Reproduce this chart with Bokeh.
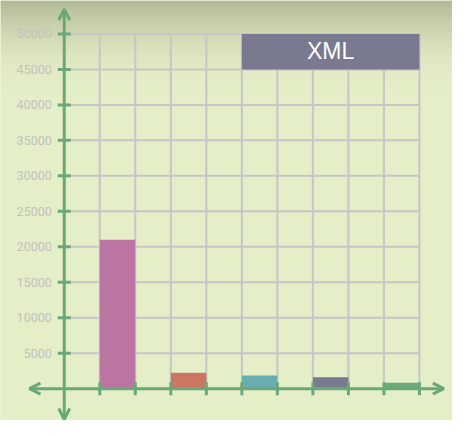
import numpy as np
from bokeh.plotting import figure
from bokeh.models import Arrow, OpenHead, Range1d
from bokeh.embed import file_html
from bokeh.resources import INLINE
from bokeh.core.properties import value

# ---- data ----
bar_values = [21000, 2250, 1850, 1600, 850]
bar_left = [1, 3, 5, 7, 9]
bar_colors = ["#bc74a2", "#cb7661", "#68aeb0", "#79798f", "#6ba97b"]
y_ticks = [5000, 10000, 15000, 20000, 25000, 30000, 35000, 40000, 45000, 50000]
y_tick_labels = [str(t) for t in y_ticks]
x_ticks = [1, 2, 3, 4, 5, 6, 7, 8, 9, 10]
legend_label = "XML"
legend_color = "#79798f"

# ---- geometry ----
W, H = 452, 420
SX, SY = W / 468.0, H / 436.0
X0PX = 66 * SX                 # origin, px from left
Y0PX = H - 403 * SY            # origin, px from bottom
UX = 331.0 / 9 * SX            # px per x unit
UY = 368.3 * SY / 50000        # px per y unit
GREEN = "#6aa878"
GRID = "#c6c6c6"
BG = "#e4eec7"

xr = Range1d(-X0PX / UX, (W - X0PX) / UX)
yr = Range1d(-Y0PX / UY, (H - Y0PX) / UY)

p = figure(width=W, height=H, x_range=xr, y_range=yr, output_backend="svg",
           toolbar_location=None, min_border=0, x_axis_type=None, y_axis_type=None)
p.outline_line_color = None
p.background_fill_color = BG
p.border_fill_color = BG
p.xgrid.visible = False
p.ygrid.visible = False

# background gradient at top
rows = H
top = np.array([0xb1, 0xb9, 0x96], dtype=float)
bot = np.array([0xe4, 0xee, 0xc7], dtype=float)
img = np.zeros((rows, 1), dtype=np.uint32)
view = img.view(dtype=np.uint8).reshape((rows, 1, 4))
for i in range(rows):
    abs_y = ((H - 1 - i) + 0.5) / SY
    t = min(abs_y / 95.0, 1.0)
    f = 1 - (1 - t) ** 2
    c = top + (bot - top) * f
    view[i, 0, 0] = int(c[0]); view[i, 0, 1] = int(c[1]); view[i, 0, 2] = int(c[2]); view[i, 0, 3] = 255
p.image_rgba(image=[img], x=xr.start, y=yr.start, dw=xr.end - xr.start, dh=yr.end - yr.start)

# grid
gx_max = max(x_ticks)
gy_max = max(y_ticks)
p.segment(x0=[0] * len(y_ticks), x1=[gx_max] * len(y_ticks), y0=y_ticks, y1=y_ticks,
          line_color=GRID, line_width=2)
p.segment(x0=x_ticks, x1=x_ticks, y0=[0] * len(x_ticks), y1=[gy_max] * len(x_ticks),
          line_color=GRID, line_width=2)

# bars
p.quad(left=bar_left, right=[l + 1 for l in bar_left], bottom=[0] * len(bar_values),
       top=bar_values, fill_color=bar_colors, line_color=None)

# legend box
p.quad(left=[5], right=[10], bottom=[45000], top=[50000], fill_color=legend_color, line_color=None)
p.text(x=[7.5], y=[47500], text=[legend_label], text_align="center", text_baseline="middle",
       y_offset=-1, text_font=value("Liberation Sans"), text_font_size="23px", text_color="white")

# axes with arrows
head = dict(size=11, line_color=GREEN, line_width=3)
p.add_layout(Arrow(start=OpenHead(**head), end=OpenHead(**head),
                   x_start=0, y_start=yr.start + 1 / UY, x_end=0,
                   y_end=(H - 9 * SY - Y0PX) / UY,
                   line_color=GREEN, line_width=3))
p.add_layout(Arrow(start=OpenHead(**head), end=OpenHead(**head),
                   x_start=(30 * SX - X0PX) / UX, y_start=0,
                   x_end=(459 * SX - X0PX) / UX, y_end=0,
                   line_color=GREEN, line_width=3))

# tick marks
p.scatter(x=[0] * len(y_ticks), y=y_ticks, marker="dash", size=13, line_color=GREEN, line_width=3)
p.scatter(x=x_ticks, y=[0] * len(x_ticks), marker="dash", angle=np.pi / 2, size=13,
          line_color=GREEN, line_width=3)

# tick labels
p.text(x=[0] * len(y_ticks), y=y_ticks, text=y_tick_labels, x_offset=-12.5, text_align="right",
       text_baseline="middle", text_font=value("Roboto"), text_font_size="12.5px", text_color="#c2c2c2")

open("out.html", "w").write(file_html(p, INLINE))
